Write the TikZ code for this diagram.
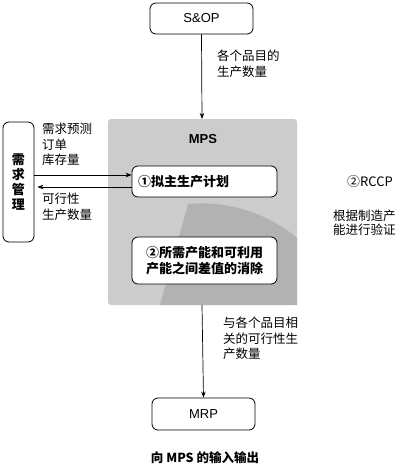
\documentclass[tikz,border=0pt]{standalone}
\usepackage{fontspec}
\setmainfont{Liberation Sans}
\newfontfamily\cjk{Noto Sans CJK SC}
\usetikzlibrary{arrows.meta}
\definecolor{mpsgray}{RGB}{204,204,204}
\definecolor{mpsdark}{RGB}{178,178,178}
\tikzset{
  rbox/.style={draw=black, line width=0.8pt, rounded corners=6pt, fill=white},
  arr/.style={draw=black, line width=0.7pt, -{Stealth[length=6pt,width=4.5pt]}},
  lbl/.style={font=\cjk\fontsize{12.5}{15.5}\selectfont, align=left, inner sep=0pt, anchor=north west},
  boxtxt/.style={font=\cjk\bfseries\fontsize{13}{16}\selectfont, inner sep=0pt},
}
\begin{document}
\begin{tikzpicture}[x=1pt,y=-1pt]
\useasboundingbox (0,0) rectangle (405,466);
% MPS gray area
\fill[mpsgray, rounded corners=3pt] (108,119) rectangle (297,305);
\fill[mpsdark] (188,204) .. controls (230,200) and (270,215) .. (297,238) -- (297,305) -- (160,305) -- cycle;
\node (mps) at (108,119) {};
\coordinate (mpstop) at (202,119);
\coordinate (mpsbot) at (202,305);
\node[font=\bfseries\fontsize{13}{15}\selectfont, inner sep=0pt] (mpslabel) at (203,139) {MPS};

% top / bottom boxes
\node[rbox, minimum width=103pt, minimum height=31pt, font=\fontsize{13}{15}\selectfont] (sop) at (201.5,18.5) {S\&OP};
\node[rbox, minimum width=103pt, minimum height=32pt, font=\fontsize{13}{15}\selectfont] (mrp) at (203.5,414) {MRP};

% inner boxes
\node[rbox, minimum width=145pt, minimum height=31pt] (b1) at (204.5,181.5) {};
\node[boxtxt, anchor=west] (b1t) at (138,181.5) {①拟主生产计划};
\node[rbox, minimum width=145pt, minimum height=47pt, boxtxt, align=center, inner sep=0pt] (b2) at (204.5,260.5) {②所需产能和可利用\\产能之间差值的消除};

% left box
\node[rbox, minimum width=31pt, minimum height=120pt, boxtxt, align=center, font=\cjk\bfseries\fontsize{13}{15}\selectfont] (dm) at (18.5,182) {需\\求\\管\\理};

% connectors
\draw[arr] (sop.south) -- (mpstop);
\draw[arr] (mpsbot) -- (mrp.north);
\coordinate (inA) at (dm.east |- 0,175);
\coordinate (inB) at (b1.west |- 0,175);
\coordinate (outA) at (b1.west |- 0,187);
\coordinate (outB) at (dm.east |- 0,187);
\draw[arr] (inA) -- (inB);
\draw[arr] (outA) -- ([xshift=3pt]outB);

% labels
\node[lbl] (l1) at (217,50) {各个品目的\\生产数量};
\node[lbl] (l2) at (42,123) {需求预测\\订单\\库存量};
\node[lbl] (l3) at (42,193) {可行性\\生产数量};
\node[lbl] (l4) at (223,317) {与各个品目相\\关的可行性生\\产数量};
\node[font=\cjk\fontsize{13}{15}\selectfont, inner sep=0pt] (rccp) at (370,182) {②RCCP};
\node[lbl, font=\cjk\fontsize{12.5}{13.5}\selectfont] (l5) at (333,210) {根据制造产\\能进行验证};
\node[font=\cjk\bfseries\fontsize{12.5}{15}\selectfont, inner sep=0pt] (cap) at (205,458) {向 MPS 的输入输出};
\end{tikzpicture}
\end{document}
